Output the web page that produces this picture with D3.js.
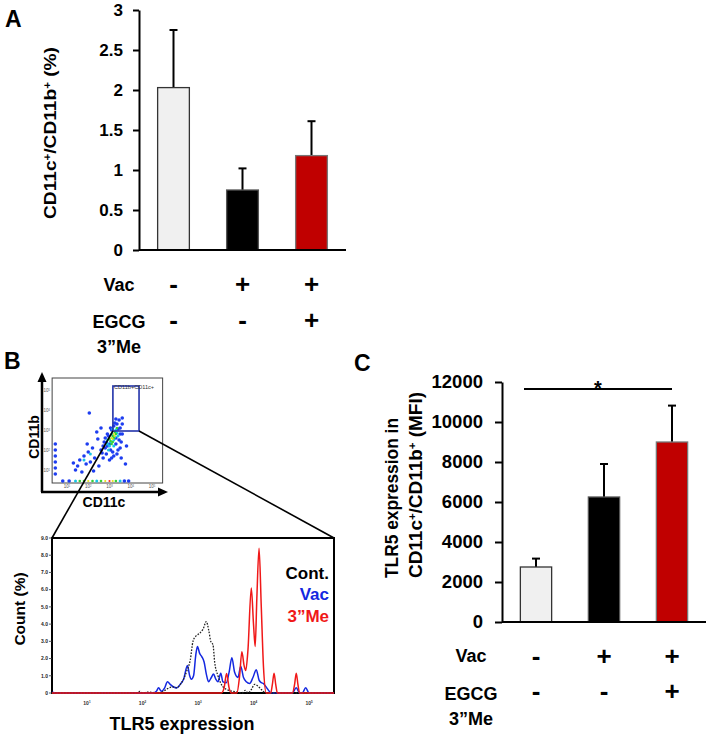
<!DOCTYPE html>
<html>
<head>
<meta charset="utf-8">
<script src="https://cdn.jsdelivr.net/npm/d3@7"></script>
<style>
  body { margin: 0; background: #fff; }
  text { font-family: 'Liberation Sans', Arial, sans-serif; font-weight: bold; }
</style>
</head>
<body>
<svg id="fig"></svg>
<script>
// data
const groups = ['Cont', 'Vac', 'Me'];
const barColors = ['#f0f0f0', '#000000', '#c00000'];
const barStrokes = ['#333333', '#555555', '#777777'];
const vacRow = ['-', '+', '+'];
const egcgRow = ['-', '-', '+'];

const pctMean = [2.03, 0.75, 1.18];
const pctUpper = [2.75, 1.02, 1.61];
const pctTicks = [0, 0.5, 1, 1.5, 2, 2.5, 3];

const mfiMean = [2750, 6250, 9000];
const mfiUpper = [3170, 7900, 10820];
const mfiTicks = [0, 2000, 4000, 6000, 8000, 10000, 12000];

const countTicks = [0, 1, 2, 3, 4, 5, 6, 7, 8, 9];
const decadeTicks = [1, 2, 3, 4, 5];

// histogram traces: [log10 TLR5, count %]
const contHist = [[0.37,0],[1.9,0],[1.95,0.1],[2.0,0],[2.1,0.05],[2.3,0],[2.38,0.1],[2.45,0.25],[2.55,0.35],[2.62,0.3],[2.68,0.5],[2.74,0.8],[2.8,1.3],[2.86,1.9],[2.91,3.0],[2.96,3.3],[3.0,3.4],[3.04,3.5],[3.09,3.7],[3.15,4.15],[3.19,3.7],[3.23,3.0],[3.27,2.8],[3.3,1.8],[3.36,1.0],[3.44,0.4],[3.52,0.2],[3.62,0.1],[3.72,0.05],[3.8,0],[3.85,0.15],[3.9,0],[3.96,0.2],[4.02,0.5],[4.08,0.4],[4.14,0.2],[4.22,0],[5.45,0]];
const vacHist = [[0.37,0.05],[0.45,0],[2.18,0],[2.25,0.1],[2.29,0.3],[2.34,0.1],[2.4,0.3],[2.45,0.65],[2.5,0.5],[2.56,0.35],[2.62,0.3],[2.68,0.5],[2.74,0.8],[2.81,1.6],[2.85,1.0],[2.88,0.8],[2.92,1.0],[2.96,2.2],[2.99,2.7],[3.03,2.3],[3.07,2.1],[3.11,1.8],[3.15,1.1],[3.19,0.65],[3.24,0.9],[3.28,1.1],[3.32,0.8],[3.36,0.65],[3.41,1.15],[3.45,0.65],[3.51,0.6],[3.56,1.2],[3.61,2.05],[3.66,1.2],[3.72,0.9],[3.77,1.55],[3.82,0.9],[3.87,0.65],[3.93,0.55],[3.99,0.9],[4.05,1.35],[4.1,0.75],[4.14,0.6],[4.18,0.55],[4.25,0.25],[4.32,0],[4.7,0],[4.77,0.3],[4.83,0],[4.88,0],[4.94,0.3],[5.0,0],[5.45,0]];
const meHist = [[0.37,0],[3.42,0],[3.47,0.3],[3.515,1.13],[3.56,0.3],[3.6,0],[3.7,0],[3.75,1.0],[3.79,2.4],[3.83,1.6],[3.86,1.3],[3.9,2.5],[3.96,6.1],[4.0,4.0],[4.03,2.7],[4.06,5.5],[4.1,8.4],[4.14,5.0],[4.18,1.5],[4.23,0],[4.31,0],[4.34,0.5],[4.37,1.15],[4.4,0.5],[4.43,0],[4.7,0],[4.74,0.5],[4.77,1.15],[4.8,0.5],[4.83,0],[5.45,0]];

// flow plot events: [log10 CD11c, log10 CD11b, density level]
const flowDots = [
  // main population, outer (blue)
  [2.6,2.0,0],[2.75,2.4,0],[2.9,2.8,0],[3.05,3.1,0],[3.2,3.2,0],[3.35,3.3,0],[3.5,3.1,0],[3.6,2.8,0],
  [3.55,2.4,0],[3.4,2.0,0],[3.2,1.7,0],[3.0,1.5,0],[2.85,1.8,0],[3.3,2.6,0],[3.0,2.3,0],[2.7,1.6,0],
  [3.45,3.5,0],[3.6,3.6,0],[2.8,2.1,0],[2.9,2.2,0],[3.05,2.0,0],[3.3,2.3,0],[3.45,2.5,0],[3.5,2.8,0],
  [3.4,3.05,0],[3.25,3.35,0],[3.1,3.0,0],[2.95,2.7,0],[2.8,2.6,0],[2.85,2.35,0],[3.15,1.9,0],[3.35,1.8,0],
  [3.5,2.1,0],[3.6,3.3,0],[3.3,3.55,0],[2.7,2.2,0],[2.65,1.85,0],[3.1,1.6,0],[3.55,1.6,0],
  // scattered events, lower left
  [2.2,2.1,0],[2.0,1.9,0],[1.8,1.7,0],[1.6,1.5,0],[1.9,1.3,0],[1.5,1.2,0],[1.4,1.0,0],[1.7,0.9,0],
  [2.3,1.6,0],[2.1,1.4,0],[1.95,2.3,0],[2.45,2.55,0],[2.5,1.2,0],[2.25,0.95,0],[1.3,1.35,0],
  [2.05,3.85,0],[2.6,3.1,0],[3.8,2.2,0],[3.75,1.3,0],[2.4,2.9,0],
  // events on the axes
  [0.45,0.8,0],[0.45,1.1,0],[0.45,1.4,0],[0.45,1.7,0],[0.45,2.0,0],[0.45,2.3,0],
  [0.8,0.45,0],[1.1,0.45,0],[1.4,0.45,1],[1.6,0.45,2],[1.8,0.45,2],[2.0,0.45,3],[2.2,0.45,2],[2.4,0.45,1],
  [2.6,0.45,2],[2.8,0.45,3],[3.0,0.45,4],[3.15,0.45,3],[3.3,0.45,2],[3.5,0.45,1],[3.7,0.45,0],[3.9,0.45,0],
  // denser core
  [2.9,2.5,1],[3.1,2.8,1],[3.3,3.0,1],[3.2,2.2,1],[2.95,2.0,1],[3.4,2.7,1],[1.8,1.5,1],[2.1,1.8,1],
  [3.05,2.4,1],[3.2,2.5,1],[3.25,2.65,1],[3.35,2.85,1],[3.0,2.2,1],[3.15,3.05,1],[2.9,2.3,1],
  [3.0,2.55,2],[3.15,2.7,2],[3.25,2.9,2],[3.1,2.3,2],[3.35,3.1,2],[3.05,2.45,2],[3.2,2.6,2],[3.3,2.8,2],[3.15,2.4,2],
  [3.1,2.6,3],[3.2,2.8,3],[3.15,2.55,3],[3.25,2.7,3]
];
const levelColors = ['#1d3df0', '#18c6e6', '#38d236', '#e6e21a', '#ff2a1a'];
const levelRadius = [1.8, 1.5, 1.3, 1.1, 1.1];
const gateBox = [3.16, 4.39, 2.95, 5.2]; // x0, x1, y0, y1 in log units

const W = 708, H = 735;
const svg = d3.select('#fig').attr('width', W).attr('height', H);
svg.append('rect').attr('width', W).attr('height', H).attr('fill', '#fff');

function supLabel(sel, parts) {
  // parts: array of [text, isSup]
  parts.forEach(p => {
    const t = sel.append('tspan').text(p[0]);
    if (p[1]) t.attr('baseline-shift', 'super').attr('font-size', '0.6em');
  });
}

function barPanel(opt) {
  const g = svg.append('g');
  const x = d3.scaleBand().domain(groups).range(opt.xr).paddingInner(0.54).paddingOuter(0.27);
  const y = d3.scaleLinear().domain(opt.domain).range(opt.yr);

  g.append('g')
    .attr('transform', 'translate(' + opt.xr[0] + ',0)')
    .call(d3.axisLeft(y).tickValues(opt.ticks).tickFormat(d => String(d))
      .tickSize(opt.tickSize).tickSizeOuter(0).tickPadding(opt.pad))
    .call(a => a.select('.domain').attr('stroke-width', 2))
    .call(a => a.selectAll('.tick line').attr('stroke-width', 2))
    .call(a => a.selectAll('.tick text').attr('font-size', opt.fs).attr('fill', '#000')
      .style('font-family', "'Liberation Sans', Arial, sans-serif").style('font-weight', 'bold'));

  // error bars
  g.selectAll('.err').data(groups).enter().append('line')
    .attr('x1', d => x(d) + x.bandwidth() / 2).attr('x2', d => x(d) + x.bandwidth() / 2)
    .attr('y1', (d, i) => y(opt.mean[i])).attr('y2', (d, i) => y(opt.upper[i]))
    .attr('stroke', '#000').attr('stroke-width', 2);
  g.selectAll('.cap').data(groups).enter().append('line')
    .attr('x1', d => x(d) + x.bandwidth() / 2 - 4).attr('x2', d => x(d) + x.bandwidth() / 2 + 4)
    .attr('y1', (d, i) => y(opt.upper[i])).attr('y2', (d, i) => y(opt.upper[i]))
    .attr('stroke', '#000').attr('stroke-width', 2);

  g.selectAll('.bar').data(groups).enter().append('rect')
    .attr('x', d => x(d)).attr('width', x.bandwidth())
    .attr('y', (d, i) => y(opt.mean[i])).attr('height', (d, i) => y(0) - y(opt.mean[i]))
    .attr('fill', (d, i) => barColors[i]).attr('stroke', (d, i) => barStrokes[i]).attr('stroke-width', 1.3);

  g.append('line').attr('x1', opt.xr[0]).attr('x2', opt.xr[1])
    .attr('y1', y(0)).attr('y2', y(0)).attr('stroke', '#000').attr('stroke-width', 2);

  // treatment rows
  const rows = [[vacRow, opt.rowY[0]], [egcgRow, opt.rowY[1]]];
  rows.forEach(r => {
    g.selectAll(null).data(r[0]).enter().append('text')
      .attr('x', (d, i) => x(groups[i]) + x.bandwidth() / 2).attr('y', r[1])
      .attr('text-anchor', 'middle').attr('font-size', 26).text(d => d);
  });
  g.append('text').attr('x', opt.labX).attr('y', opt.labY[0]).attr('text-anchor', 'middle')
    .attr('font-size', 18).text('Vac');
  g.append('text').attr('x', opt.labX).attr('y', opt.labY[1]).attr('text-anchor', 'middle')
    .attr('font-size', 18).text('EGCG');
  g.append('text').attr('x', opt.labX).attr('y', opt.labY[2]).attr('text-anchor', 'middle')
    .attr('font-size', 18).text('3\u201DMe');
  return {x: x, y: y, g: g};
}

// panel A
barPanel({xr: [139, 346], yr: [250, 10], domain: [0, 3], ticks: pctTicks, mean: pctMean, upper: pctUpper,
  tickSize: 6, pad: 10, fs: 17, rowY: [293, 328.5], labX: 119, labY: [291, 328, 353]});
svg.append('text').attr('x', 5).attr('y', 27).attr('font-size', 23).text('A');
const yla = svg.append('text').attr('transform', 'translate(56,133) rotate(-90)')
  .attr('text-anchor', 'middle').attr('font-size', 17)
  .attr('textLength', 172).attr('lengthAdjust', 'spacingAndGlyphs');
supLabel(yla, [['CD11c'], ['+', 1], ['/CD11b'], ['+', 1], [' (%)']]);

// panel C
const pc = barPanel({xr: [502, 706], yr: [622, 382], domain: [0, 12000], ticks: mfiTicks, mean: mfiMean, upper: mfiUpper,
  tickSize: 7, pad: 12, fs: 18.5, rowY: [664.5, 700], labX: 471, labY: [662, 700, 725]});
svg.append('text').attr('x', 354).attr('y', 371).attr('font-size', 23).text('C');
svg.append('text').attr('transform', 'translate(398,578) rotate(-90)')
  .attr('font-size', 18).attr('textLength', 160).attr('lengthAdjust', 'spacingAndGlyphs')
  .text('TLR5 expression in');
const ylc = svg.append('text').attr('transform', 'translate(422,578) rotate(-90)').attr('font-size', 18)
  .attr('textLength', 186).attr('lengthAdjust', 'spacingAndGlyphs');
supLabel(ylc, [['CD11c'], ['+', 1], ['/CD11b'], ['+', 1], [' (MFI)']]);
// significance bracket
const c0 = pc.x(groups[0]) + pc.x.bandwidth() / 2, c2 = pc.x(groups[2]) + pc.x.bandwidth() / 2;
svg.append('line').attr('x1', c0 - 12).attr('x2', c2).attr('y1', 389).attr('y2', 389)
  .attr('stroke', '#000').attr('stroke-width', 2);
svg.append('text').attr('x', (c0 - 12 + c2) / 2).attr('y', 395).attr('text-anchor', 'middle')
  .attr('font-size', 20).text('*');

// panel B
svg.append('text').attr('x', 4).attr('y', 369).attr('font-size', 23).text('B');

// flow plot
const fx = d3.scaleLinear().domain([1, 5]).range([67, 152]);
const fy = d3.scaleLinear().domain([1, 5]).range([470, 390]);
const fg = svg.append('g');
fg.append('rect').attr('x', fx(0.3)).attr('y', fy(5.6)).attr('width', fx(5.5) - fx(0.3)).attr('height', fy(0.35) - fy(5.6))
  .attr('fill', '#fff').attr('stroke', '#444').attr('stroke-width', 1);
fg.selectAll('.dot').data(flowDots).enter().append('circle')
  .attr('cx', d => fx(d[0])).attr('cy', d => fy(d[1]))
  .attr('r', d => levelRadius[d[2]])
  .attr('fill', d => levelColors[d[2]]);
decadeTicks.forEach(d => {
  const tx = fg.append('text').attr('x', fx(d)).attr('y', 488).attr('text-anchor', 'middle')
    .attr('font-size', 4.5).attr('fill', '#555').style('font-weight', 'normal');
  supLabel(tx, [['10'], [String(d), 1]]);
  const ty = fg.append('text').attr('x', 50).attr('y', fy(d) + 1.5).attr('text-anchor', 'end')
    .attr('font-size', 4.5).attr('fill', '#555').style('font-weight', 'normal');
  supLabel(ty, [['10'], [String(d), 1]]);
});
fg.append('rect').attr('x', fx(gateBox[0])).attr('y', fy(gateBox[3]))
  .attr('width', fx(gateBox[1]) - fx(gateBox[0])).attr('height', fy(gateBox[2]) - fy(gateBox[3]))
  .attr('fill', 'none').attr('stroke', '#2233aa').attr('stroke-width', 1.6);
fg.append('text').attr('x', fx(gateBox[0]) + 1).attr('y', fy(gateBox[3]) + 2.5).attr('font-size', 5.6)
  .attr('fill', '#333').style('font-weight', 'normal').text('CD11b+CD11c+');
// arrows
fg.append('line').attr('x1', 42).attr('y1', 492).attr('x2', 42).attr('y2', 380).attr('stroke', '#000').attr('stroke-width', 2.5);
fg.append('line').attr('x1', 41).attr('y1', 492).attr('x2', 160).attr('y2', 492).attr('stroke', '#000').attr('stroke-width', 2.5);
fg.append('path').attr('d', 'M42,372 L37.5,382 L46.5,382 Z').attr('fill', '#000');
fg.append('path').attr('d', 'M168,492 L158,487.5 L158,496.5 Z').attr('fill', '#000');
fg.append('text').attr('transform', 'translate(39,437) rotate(-90)').attr('text-anchor', 'middle')
  .attr('font-size', 14).text('CD11b');
fg.append('text').attr('x', 104).attr('y', 507).attr('text-anchor', 'middle').attr('font-size', 14).text('CD11c');

// histogram
const hx = d3.scaleLinear().domain([0.37, 5.45]).range([52, 334]);
const hy = d3.scaleLinear().domain([0, 9]).range([693, 538]);
const hg = svg.append('g');
// zoom lines from gate to histogram
hg.append('line').attr('x1', fx(gateBox[0])).attr('y1', fy(gateBox[2])).attr('x2', hx(0.37)).attr('y2', hy(9))
  .attr('stroke', '#000').attr('stroke-width', 1.6);
hg.append('line').attr('x1', fx(gateBox[1])).attr('y1', fy(gateBox[2])).attr('x2', hx(5.45)).attr('y2', hy(9))
  .attr('stroke', '#000').attr('stroke-width', 1.6);
hg.append('rect').attr('x', hx(0.37)).attr('y', hy(9)).attr('width', hx(5.45) - hx(0.37)).attr('height', hy(0) - hy(9))
  .attr('fill', '#fff').attr('stroke', '#000').attr('stroke-width', 2);

const line = d3.line().x(d => hx(d[0])).y(d => hy(d[1])).curve(d3.curveMonotoneX);
hg.append('path').datum(vacHist).attr('d', line).attr('fill', 'none').attr('stroke', '#1428e0').attr('stroke-width', 1.5);
hg.append('path').datum(contHist).attr('d', line).attr('fill', 'none').attr('stroke', '#222')
  .attr('stroke-width', 1.3).attr('stroke-dasharray', '1.6,1.4');
hg.append('path').datum(meHist).attr('d', line).attr('fill', 'none').attr('stroke', '#f01818').attr('stroke-width', 1.5);

countTicks.forEach(d => {
  hg.append('line').attr('x1', 49).attr('x2', 52).attr('y1', hy(d)).attr('y2', hy(d)).attr('stroke', '#333').attr('stroke-width', 0.8);
  hg.append('text').attr('x', 48).attr('y', hy(d) + 1.8).attr('text-anchor', 'end').attr('font-size', 5)
    .attr('fill', '#222').text(d === 0 ? '0' : d.toFixed(1));
});
decadeTicks.forEach(d => {
  const t = hg.append('text').attr('x', hx(d)).attr('y', 705).attr('text-anchor', 'middle')
    .attr('font-size', 5).attr('fill', '#333');
  supLabel(t, [['10'], [String(d), 1]]);
});
hg.append('text').attr('x', 182).attr('y', 730).attr('text-anchor', 'middle').attr('font-size', 18).text('TLR5 expression');
hg.append('text').attr('transform', 'translate(25,609) rotate(-90)').attr('text-anchor', 'middle')
  .attr('font-size', 15.5).text('Count (%)');
const legend = [['Cont.', '#000'], ['Vac', '#1428e0'], ['3\u201DMe', '#f01818']];
legend.forEach((l, i) => {
  hg.append('text').attr('x', 329).attr('y', 579 + i * 21.3).attr('text-anchor', 'end')
    .attr('font-size', 17).attr('fill', l[1]).text(l[0]);
});
</script>
</body>
</html>
